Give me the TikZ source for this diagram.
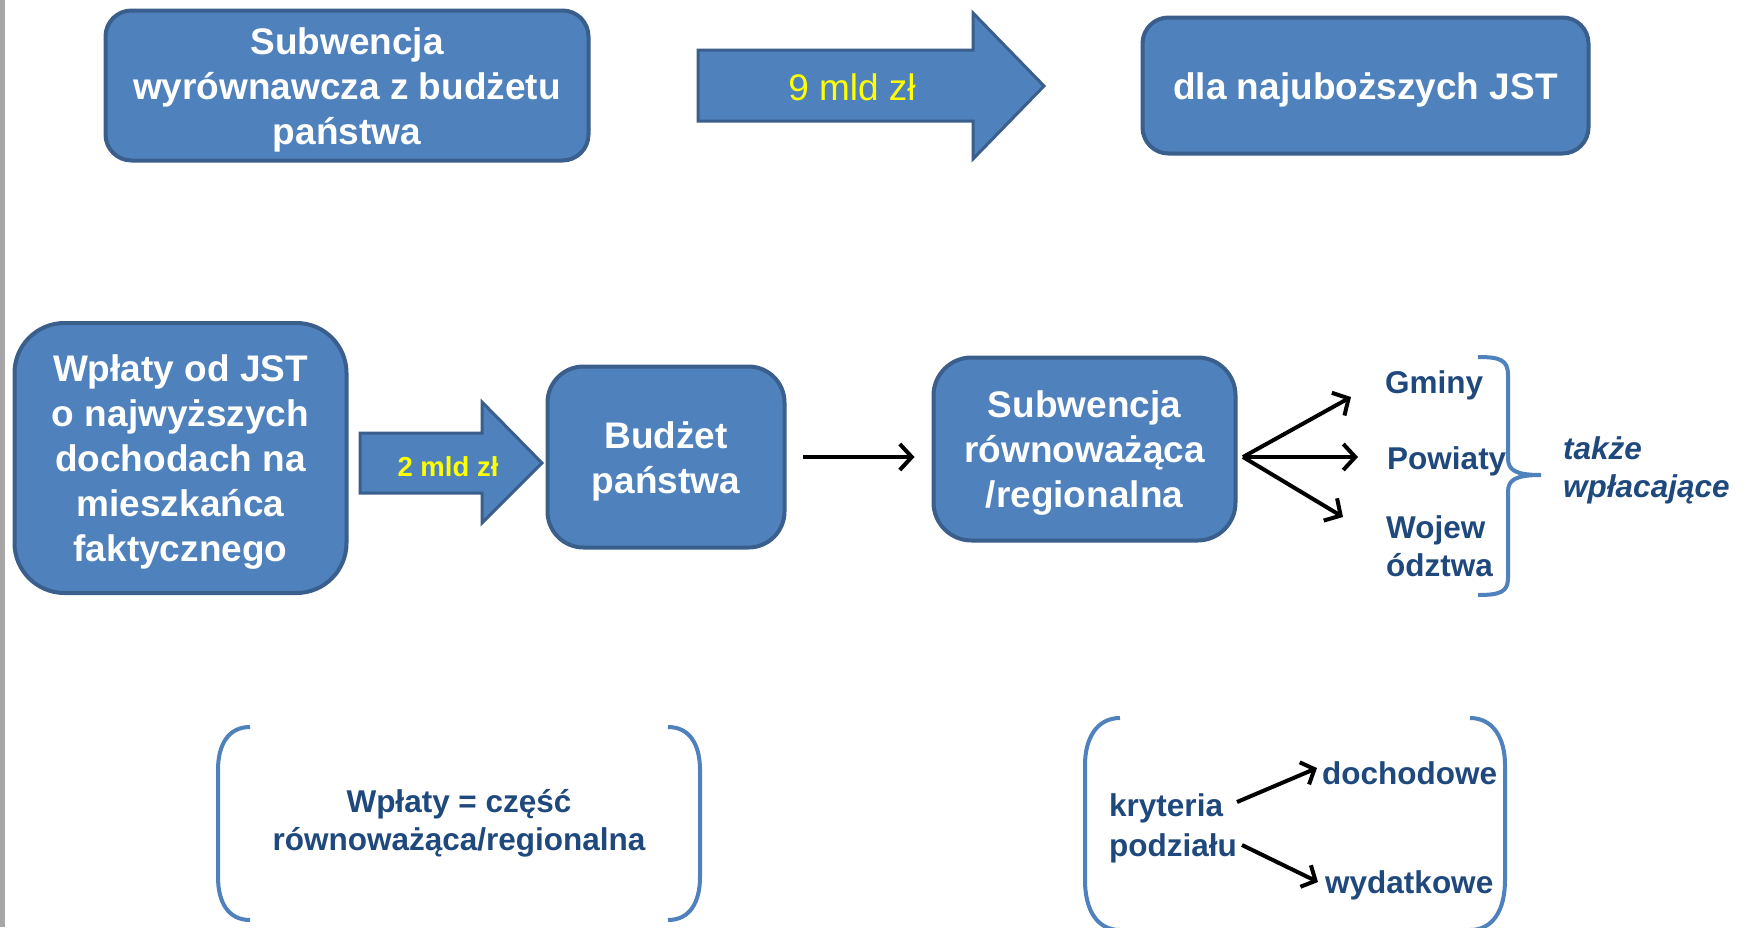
\documentclass[tikz,border=0pt]{standalone}
\usepackage{fontspec}
\setmainfont{Liberation Sans}
\usetikzlibrary{arrows.meta}
\definecolor{boxfill}{HTML}{4F81BD}
\definecolor{boxline}{HTML}{3A5F8C}
\definecolor{navy}{RGB}{31,73,125}
\definecolor{bracecol}{HTML}{4F81BD}
\definecolor{edgegray}{HTML}{A6A6A6}
\definecolor{labelyellow}{HTML}{FFFF00}
\tikzset{
  bluebox/.style={draw=boxline, fill=boxfill, line width=4pt, inner sep=0pt},
  boxtext/.style={text=white, font=\fontsize{37}{45}\selectfont\bfseries, align=center, inner sep=0pt},
  blockarrow/.style={draw=boxline, fill=boxfill, line width=3pt, line join=miter},
  navytext/.style={text=navy, font=\fontsize{31.5}{38}\selectfont\bfseries, inner sep=0pt},
  barb/.style={-{Straight Barb[length=12pt,width=26pt]}, line width=4pt, black},
  smallbarb/.style={-{Straight Barb[length=11pt,width=24pt]}, line width=4pt, black},
  bracketline/.style={draw=bracecol, line width=4pt},
}
\begin{document}
\begin{tikzpicture}[x=1pt,y=-1pt]
\useasboundingbox (0,0) rectangle (1751,927);
\fill[white] (0,0) rectangle (1751,927);
\fill[edgegray] (0,0) rectangle (5,927);

% top row
\node[bluebox, minimum width=483pt, minimum height=150pt, rounded corners=26pt] (sub1) at (347,85.5) {};
\node[boxtext] (sub1t) at ([yshift=-4.5pt]sub1.center) {Subwencja\\wyrównawcza z budżetu\\państwa};
\draw[blockarrow] (698,50) -- (973,50) -- (973,13) -- (1044,86) -- (973,159) -- (973,121) -- (698,121) -- cycle;
\node[inner sep=0pt, text=labelyellow, font=\fontsize{37}{45}\selectfont] (lab9) at (852,87) {9 mld zł};
\node[bluebox, minimum width=446pt, minimum height=136pt, rounded corners=26pt] (najub) at (1365.5,85.5) {};
\node[boxtext] (najubt) at ([yshift=-4.5pt]najub.center) {dla najuboższych JST};

% middle row
\node[bluebox, minimum width=332pt, minimum height=270pt, rounded corners=50pt] (wplaty) at (180.5,458) {};
\node[boxtext] (wplatyt) at ([yshift=-4.5pt]wplaty.center)
  {Wpłaty od JST\\o najwyższych\\dochodach na\\mieszkańca\\faktycznego};
\draw[blockarrow] (360,433) -- (482,433) -- (482,402) -- (542,463) -- (482,523) -- (482,493) -- (360,493) -- cycle;
\node[inner sep=0pt, text=labelyellow, font=\fontsize{27.5}{33}\selectfont\bfseries] (lab2) at (448,467) {2 mld zł};
\node[bluebox, minimum width=237pt, minimum height=181pt, rounded corners=36pt] (budzet) at (666,457) {};
\node[boxtext] (budzett) at ([yshift=-4.5pt]budzet.center) {Budżet\\państwa};
\node[bluebox, minimum width=302pt, minimum height=183pt, rounded corners=38pt] (subreg) at (1084.5,449) {};
\node[boxtext] (subregt) at ([yshift=-4.5pt]subreg.center) {Subwencja\\równoważąca\\/regionalna};
\draw[barb, shorten <=16pt, shorten >=17pt] (budzet.east) -- (budzet.east -| subreg.west);

\node[navytext, anchor=west] (gminy) at (1385,385) {Gminy};
\node[navytext, anchor=west] (powiaty) at (1387,461) {Powiaty};
\node[navytext, anchor=west, align=left] (woj) at (1386,546) {Wojew\\ództwa};
\coordinate (fan) at (1243,457);
\coordinate (tgm) at (1351,397);
\coordinate (tpw) at (1358,457);
\coordinate (twj) at (1343,517);
\draw[barb] (fan) -- (tgm);
\draw[barb] (fan) -- (tpw);
\draw[barb] (fan) -- (twj);

\draw[bracketline] (1478,357) .. controls (1500,357) and (1508,360) .. (1508,375)
  -- (1508,458) .. controls (1508,470) and (1515,475) .. (1541,475)
  .. controls (1515,475) and (1508,480) .. (1508,492)
  -- (1508,578) .. controls (1508,592) and (1500,595) .. (1478,595);
\node[navytext, anchor=west, align=left, font=\fontsize{31.5}{38}\selectfont\bfseries\itshape] (takze) at (1563,470)
  {także\\wpłacające};

% bottom left
\draw[bracketline] (250,727) .. controls (228,727) and (218,745) .. (218,770) -- (218,877)
  .. controls (218,902) and (228,920) .. (250,920);
\draw[bracketline] (668,727) .. controls (690,727) and (700,745) .. (700,770) -- (700,877)
  .. controls (700,902) and (690,920) .. (668,920);
\node[navytext, align=center] (rowne) at (459,823) {Wpłaty = część\\równoważąca/regionalna};

% bottom right
\draw[bracketline] (1120,718) .. controls (1097,718) and (1085,738) .. (1085,765) -- (1085,880)
  .. controls (1085,910) and (1097,930) .. (1120,930);
\draw[bracketline] (1470,718) .. controls (1493,718) and (1505,738) .. (1505,765) -- (1505,880)
  .. controls (1505,910) and (1493,930) .. (1470,930);
\node[navytext, anchor=west, align=left, font=\fontsize{31.5}{40}\selectfont\bfseries] (kryt) at (1109,828) {kryteria\\podziału};
\node[navytext, anchor=west] (doch) at (1322,773) {dochodowe};
\node[navytext, anchor=west] (wyd) at (1325,885) {wydatkowe};
\coordinate (k1s) at (1237,802);
\coordinate (k1e) at (1317,768);
\coordinate (k2s) at (1242,845);
\coordinate (k2e) at (1318,882);
\draw[smallbarb] (k1s) -- (k1e);
\draw[smallbarb] (k2s) -- (k2e);
\end{tikzpicture}
\end{document}
